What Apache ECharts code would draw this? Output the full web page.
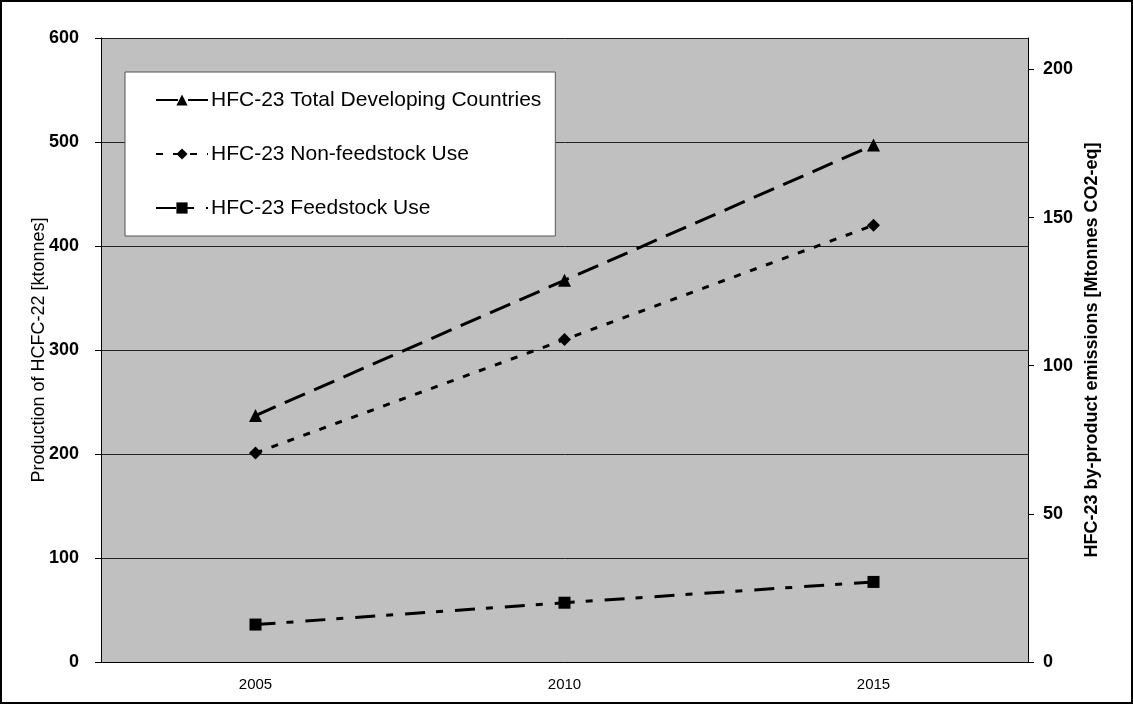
<!DOCTYPE html>
<html>
<head>
<meta charset="utf-8">
<script src="https://cdn.jsdelivr.net/npm/echarts@6/dist/echarts.min.js"></script>
<style>
    html, body { margin: 0; padding: 0; background: #fff; }
    #chart { width: 1133px; height: 704px; border: 2px solid #000; box-sizing: border-box; }
</style>
</head>
<body>
<div id="chart"></div>
<script>
    var years = ['2005', '2010', '2015'];
    var totalDeveloping = [237, 367, 497];
    var nonFeedstock = [201, 310, 420];
    var feedstock = [36, 57, 77];
    // right axis: 600 kt HCFC-22 -> 210.6 Mt CO2-eq
    var rightMax = 210.6;

    var myChart = echarts.init(document.getElementById('chart'));

    var option = {
        animation: false,
        textStyle: { fontFamily: 'Liberation Sans, Arial, sans-serif', color: '#000' },
        grid: {
            left: 99, right: 103, top: 36, bottom: 40,
            show: true, backgroundColor: '#c0c0c0', borderWidth: 0
        },
        legend: {
            orient: 'vertical',
            left: 123, top: 70,
            padding: [16, 14, 16, 30],
            backgroundColor: '#fff',
            borderColor: '#555',
            borderWidth: 1,
            itemWidth: 52,
            itemHeight: 14,
            itemGap: 30,
            textStyle: { fontSize: 21, color: '#000', lineHeight: 24, padding: [0, 0, 0, -2] },
            data: ['HFC-23 Total Developing Countries', 'HFC-23 Non-feedstock Use', 'HFC-23 Feedstock Use']
        },
        xAxis: {
            type: 'category',
            data: years,
            boundaryGap: true,
            axisLine: { lineStyle: { color: '#000', width: 1 } },
            axisTick: { inside: true, length: 6, lineStyle: { color: '#000' } },
            axisLabel: { fontSize: 15, color: '#000', margin: 15 }
        },
        yAxis: [
            {
                type: 'value',
                min: 0, max: 600, interval: 100,
                name: 'Production of HCFC-22 [ktonnes]',
                nameLocation: 'middle',
                nameGap: 53,
                nameMoveOverlap: false,
                nameTextStyle: { fontSize: 18, color: '#000' },
                axisLine: { show: true, lineStyle: { color: '#000' } },
                axisTick: { show: true, length: 6, lineStyle: { color: '#000' } },
                axisLabel: { fontSize: 18, fontWeight: 'bold', color: '#000', margin: 22 },
                splitLine: { lineStyle: { color: '#222', width: 1 } }
            },
            {
                type: 'value',
                min: 0, max: rightMax, interval: 50,
                name: 'HFC-23 by-product emissions [Mtonnes CO2-eq]',
                nameLocation: 'middle',
                nameGap: 55,
                nameMoveOverlap: false,
                nameTextStyle: { fontSize: 18, fontWeight: 'bold', color: '#000' },
                axisLine: { show: true, lineStyle: { color: '#000' } },
                axisTick: { show: true, length: 6, lineStyle: { color: '#000' } },
                axisLabel: { fontSize: 18, fontWeight: 'bold', color: '#000', margin: 15, showMaxLabel: false },
                splitLine: { show: false }
            }
        ],
        series: [
            {
                name: 'HFC-23 Total Developing Countries',
                type: 'line',
                data: totalDeveloping,
                symbol: 'triangle', symbolSize: 13,
                itemStyle: { color: '#000' },
                lineStyle: { color: '#000', width: 3, type: [22, 10] }
            },
            {
                name: 'HFC-23 Non-feedstock Use',
                type: 'line',
                data: nonFeedstock,
                symbol: 'diamond', symbolSize: 13,
                itemStyle: { color: '#000' },
                lineStyle: { color: '#000', width: 3, type: [7, 10] }
            },
            {
                name: 'HFC-23 Feedstock Use',
                type: 'line',
                data: feedstock,
                symbol: 'rect', symbolSize: 12,
                itemStyle: { color: '#000' },
                lineStyle: { color: '#000', width: 3, type: [20, 11, 7, 12] }
            }
        ]
    };

    myChart.setOption(option);
</script>
</body>
</html>
